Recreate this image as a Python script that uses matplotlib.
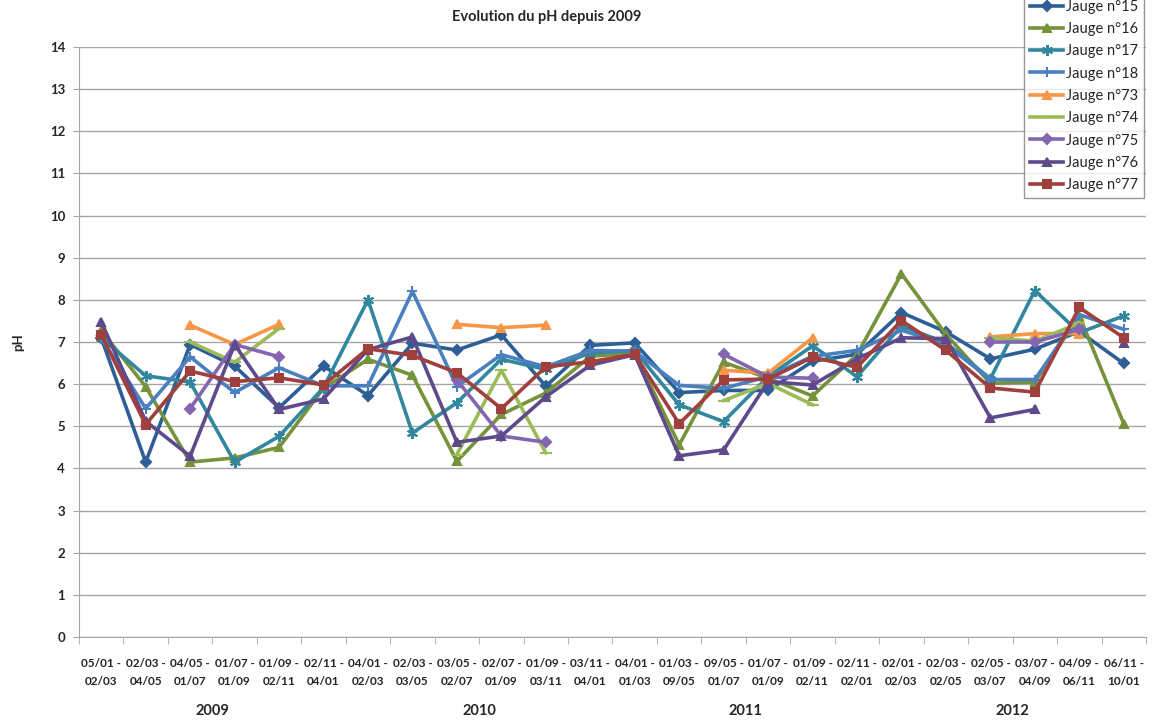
import numpy as np
import matplotlib; matplotlib.use("Agg")
import matplotlib.pyplot as plt
import matplotlib.transforms as mtrans

nan = np.nan
periods = ["05/01 -\n02/03", "02/03 -\n04/05", "04/05 -\n01/07", "01/07 -\n01/09", "01/09 -\n02/11", "02/11 -\n04/01",
           "04/01 -\n02/03", "02/03 -\n03/05", "03/05 -\n02/07", "02/07 -\n01/09", "01/09 -\n03/11", "03/11 -\n04/01",
           "04/01 -\n01/03", "01/03 -\n09/05", "09/05 -\n01/07", "01/07 -\n01/09", "01/09 -\n02/11", "02/11 -\n02/01",
           "02/01 -\n02/03", "02/03 -\n02/05", "02/05 -\n03/07", "03/07 -\n04/09", "04/09 -\n06/11", "06/11 -\n10/01"]
years = ["2009", "2010", "2011", "2012"]
per_year = [6, 6, 6, 6]

j15 = [7.1, 4.15, 6.94, 6.43, 5.44, 6.43, 5.73, 6.97, 6.81, 7.17, 5.95, 6.92,
       6.98, 5.8, 5.85, 5.85, 6.54, 6.71, 7.7, 7.24, 6.6, 6.83, 7.25, 6.49]
j16 = [7.27, 5.94, 4.15, 4.25, 4.5, 5.9, 6.59, 6.21, 4.17, 5.28, 5.79, 6.66,
       6.74, 4.56, 6.52, 6.14, 5.72, 6.7, 8.62, 7.18, 6.02, 6.05, 7.62, 5.06]
j17 = [7.1, 6.2, 6.05, 4.15, 4.76, 5.92, 8.0, 4.84, 5.56, 6.59, 6.35, 6.74,
       6.8, 5.51, 5.11, 6.18, 6.91, 6.18, 7.38, 6.98, 6.13, 8.22, 7.22, 7.62]
j18 = [7.1, 5.42, 6.65, 5.8, 6.39, 5.96, 5.96, 8.2, 5.94, 6.7, 6.41, 6.8,
       6.78, 5.97, 5.9, 6.18, 6.66, 6.8, 7.28, 6.94, 6.11, 6.11, 7.65, 7.3]
j73 = [nan, nan, 7.4, 6.94, 7.42, nan, nan, nan, 7.42, 7.34, 7.4, nan,
       nan, nan, 6.33, 6.26, 7.1, nan, nan, nan, 7.12, 7.2, 7.2, nan]
j74 = [nan, nan, 7.0, 6.52, 7.32, nan, nan, nan, 4.33, 6.33, 4.37, nan,
       nan, nan, 5.61, 6.02, 5.51, nan, nan, nan, 7.1, 7.02, 7.45, nan]
j75 = [nan, nan, 5.42, 6.94, 6.65, nan, nan, nan, 6.1, 4.77, 4.62, nan,
       nan, nan, 6.71, 6.17, 6.14, nan, nan, nan, 7.0, 7.0, 7.3, nan]
j76 = [7.48, 5.12, 4.29, 6.94, 5.4, 5.65, 6.82, 7.12, 4.62, 4.77, 5.7, 6.45,
       6.7, 4.3, 4.44, 6.06, 5.98, 6.6, 7.1, 7.08, 5.2, 5.4, nan, 6.98]
j77 = [7.17, 5.04, 6.31, 6.06, 6.15, 5.98, 6.84, 6.68, 6.27, 5.42, 6.41, 6.53,
       6.71, 5.06, 6.1, 6.12, 6.64, 6.4, 7.51, 6.8, 5.91, 5.81, 7.82, 7.1]

series = [("Jauge n°15", j15, "#2E5E96", "D", 5),
          ("Jauge n°16", j16, "#76933C", "^", 6),
          ("Jauge n°17", j17, "#31879E", (6, 2, 0), 8),
          ("Jauge n°18", j18, "#4A80C0", "+", 7),
          ("Jauge n°73", j73, "#F79646", "^", 6),
          ("Jauge n°74", j74, "#9BBB59", "_", 9),
          ("Jauge n°75", j75, "#8466B0", "D", 5),
          ("Jauge n°76", j76, "#5E4A8A", "^", 6),
          ("Jauge n°77", j77, "#A0403D", "s", 6)]

plt.rcParams["font.family"] = ["Lato", "DejaVu Sans"]
GRID = "#A6A6A6"; TXT = "#262626"

fig = plt.figure(figsize=(11.67, 7.24), dpi=100)
ax = fig.add_axes([79/1167, 1-637/724, (1146-79)/1167, (637-47)/724])
x = np.arange(len(periods))
for name, vals, col, mk, ms in series:
    ax.plot(x, vals, color=col, lw=2.6, marker=mk, ms=ms, mfc=col, mec=col, mew=1.5, label=name)

ax.set_xlim(-0.5, len(periods)-0.5)
ax.set_ylim(0, 14)
ax.set_yticks(range(0, 15))
ax.yaxis.grid(True, color=GRID, lw=1)
ax.set_axisbelow(True)
for s in ("top", "right"):
    ax.spines[s].set_visible(False)
for s in ("left", "bottom"):
    ax.spines[s].set_color(GRID)
ax.tick_params(axis="y", length=4, color=GRID, labelsize=9.5, labelcolor=TXT, pad=6)
for t in ax.get_yticklabels(): t.set_fontweight("bold")

ax.set_xticks(x)
ax.set_xticklabels(periods, fontsize=8.5, fontweight="bold", color=TXT, linespacing=1.8)
ax.tick_params(axis="x", length=0, pad=15)
ax.set_xticks(np.arange(-0.5, len(periods)), minor=True)
ax.tick_params(axis="x", which="minor", length=5, color=GRID)

tr = mtrans.blended_transform_factory(ax.transData, ax.transAxes)
start = 0
for yr, n in zip(years, per_year):
    ax.text(start + (n-1)/2, -0.125, yr, transform=tr, ha="center", va="center",
            fontsize=10.5, fontweight="bold", color=TXT)
    start += n

fig.text(547/1167, 1-17/724, "Evolution du pH depuis 2009", ha="center", va="center",
         fontsize=10.5, fontweight="bold", color=TXT)
fig.text(18/1167, 1-342/724, "pH", rotation=90, ha="center", va="center",
         fontsize=9.5, fontweight="bold", color=TXT)

leg = fig.legend(loc="lower left", bbox_to_anchor=(1024/1167, 1-198/724), fontsize=10.5,
                 frameon=True, fancybox=False, edgecolor="#7F7F7F", handlelength=2.3,
                 handletextpad=0.15, labelspacing=0.57, borderpad=0.4, borderaxespad=0)
leg.get_frame().set_linewidth(1)
for t in leg.get_texts(): t.set_color(TXT)

fig.savefig("out.png", dpi=100)
